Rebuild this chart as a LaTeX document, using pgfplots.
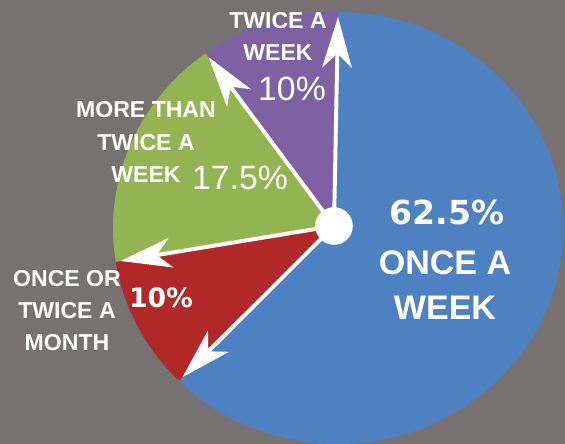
\documentclass[border=0pt]{standalone}
\usepackage{pgfplots}
\pgfplotsset{compat=1.18}
\usepackage{fontspec}
\setmainfont{Liberation Sans}
\newfontfamily\dejavu{DejaVu Sans}
\usetikzlibrary{arrows.meta}
\definecolor{bggray}{RGB}{118,114,113}
\definecolor{cblue}{RGB}{77,129,193}
\definecolor{cred}{RGB}{178,40,38}
\definecolor{cgreen}{RGB}{146,181,82}
\definecolor{cpurple}{RGB}{126,97,163}
% data (percent)
\def\vA{62.5}% once a week
\def\vB{10}% once or twice a month
\def\vC{17.5}% more than twice a week
\def\vD{10}% twice a week
\pgfmathsetmacro\aA{90}
\pgfmathsetmacro\aB{\aA-3.6*\vA}
\pgfmathsetmacro\aC{\aB-3.6*\vB}
\pgfmathsetmacro\aD{\aC-3.6*\vC}
\pgfmathsetmacro\aE{\aD-3.6*\vD}
\def\cx{338}\def\cy{228}\def\RX{225}\def\RY{216}
\def\px{334}\def\py{226}
\tikzset{piearrow/.style={white, line width=2.8pt, -{Stealth[length=36pt, width=21pt, inset=10pt]}},
  piearc/.style={x radius=5.625cm, y radius=5.4cm}}
\begin{document}
\begin{tikzpicture}
\begin{axis}[x=0.025cm, y=0.025cm, y dir=reverse,
  xmin=0, xmax=565, ymin=0, ymax=444, hide axis, clip=true]
\addplot[draw=none] coordinates {(0,0)};
\fill[bggray] (axis cs:0,0) rectangle (axis cs:565,444);
\fill[cblue] (axis cs:\px,\py) -- (axis cs:{\cx+\RX*cos(\aA)},{\cy-\RY*sin(\aA)})
  arc[start angle=\aA, end angle=\aB, piearc] -- cycle;
\fill[cred] (axis cs:\px,\py) -- (axis cs:{\cx+\RX*cos(\aB)},{\cy-\RY*sin(\aB)})
  arc[start angle=\aB, end angle=\aC, piearc] -- cycle;
\fill[cgreen] (axis cs:\px,\py) -- (axis cs:{\cx+\RX*cos(\aC)},{\cy-\RY*sin(\aC)})
  arc[start angle=\aC, end angle=\aD, piearc] -- cycle;
\fill[cpurple] (axis cs:\px,\py) -- (axis cs:{\cx+\RX*cos(\aD)},{\cy-\RY*sin(\aD)})
  arc[start angle=\aD, end angle=\aE, piearc] -- cycle;
\draw[piearrow] (axis cs:\px,\py) -- (axis cs:{\cx+(\RX-5)*cos(\aA)},{\cy-(\RY-5)*sin(\aA)});
\draw[piearrow] (axis cs:\px,\py) -- (axis cs:{\cx+(\RX-5)*cos(\aB)},{\cy-(\RY-5)*sin(\aB)});
\draw[piearrow] (axis cs:\px,\py) -- (axis cs:{\cx+(\RX-5)*cos(\aC)},{\cy-(\RY-5)*sin(\aC)});
\draw[piearrow] (axis cs:\px,\py) -- (axis cs:{\cx+(\RX-5)*cos(\aD)},{\cy-(\RY-5)*sin(\aD)});
\fill[white] (axis cs:\px,\py) circle[radius=0.47cm];
\node[white, font=\bfseries\fontsize{16.4}{22.8}\selectfont, align=center, inner sep=0]
  at (axis cs:278,36) {TWICE A\\WEEK};
\node[white, font=\fontsize{24}{28}\selectfont, inner sep=0] at (axis cs:292,89) {10\%};
\node[white, font=\bfseries\fontsize{16.4}{22.8}\selectfont, align=center, inner sep=0]
  at (axis cs:146,142) {MORE THAN\\TWICE A\\WEEK};
\node[white, font=\fontsize{24}{28}\selectfont, inner sep=0] at (axis cs:240,178) {17.5\%};
\node[white, font=\dejavu\bfseries\fontsize{23.5}{28}\selectfont, inner sep=0] at (axis cs:447,212) {62.5\%};
\node[white, font=\bfseries\fontsize{24.2}{32}\selectfont, align=center, inner sep=0]
  at (axis cs:445,285) {ONCE A\\WEEK};
\node[white, font=\bfseries\fontsize{16.4}{22.8}\selectfont, align=center, inner sep=0]
  at (axis cs:67,311) {ONCE OR\\TWICE A\\MONTH};
\node[white, font=\dejavu\bfseries\fontsize{19}{22}\selectfont, inner sep=0] at (axis cs:161,298) {10\%};
\end{axis}
\pgfresetboundingbox
\path[use as bounding box] (current axis.south west) rectangle (current axis.north east);
\end{tikzpicture}
\end{document}
